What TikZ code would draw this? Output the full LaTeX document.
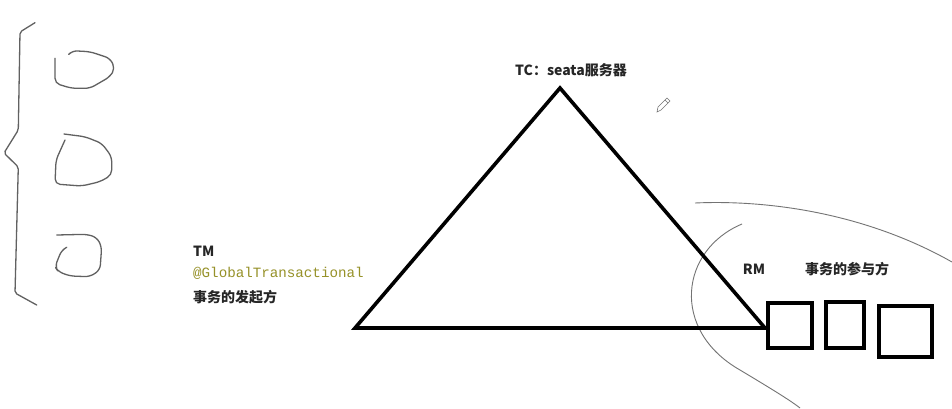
\documentclass[tikz,border=0pt]{standalone}
\usepackage{fontspec}
\newfontfamily\cjk{Noto Sans CJK SC}
\newfontfamily\mono{Liberation Mono}
\begin{document}
\begin{tikzpicture}[x=1pt,y=-1pt,
  hand/.style={draw=black!62,line width=1.3pt,line cap=round,line join=round,rounded corners=5pt},
  thick/.style={draw=black,line width=3.6pt,line join=miter},
  sq/.style={draw=black,line width=3.6pt},
  lbl/.style={font=\cjk\bfseries\fontsize{14}{16}\selectfont,inner sep=0pt,text=black!85},
  code/.style={font=\mono\fontsize{14.2}{16}\selectfont,inner sep=0pt,text={rgb,255:red,150;green,145;blue,40}},
  curve/.style={draw=black!55,line width=0.9pt}]
\useasboundingbox (0,0) rectangle (952,408);
\fill[white] (0,0) rectangle (952,408);
% brace
\draw[hand,rounded corners=2pt] (35,22.7) -- (20,32) -- (18.3,130) -- (4,153) -- (18.3,167) -- (15,293) -- (36.7,305);
% hand-drawn loops
\draw[hand] (70,53) -- (72,50.7) -- (90,51.7) -- (110,58.3) -- (115,68.3) -- (110,76.7) -- (90,88.3) -- (71.7,88.3) -- (55,83.3) -- (55,58.3);
\draw[hand] (64,134) -- (85,136.7) -- (101.7,143.3) -- (111.7,156.7) -- (111.7,175) -- (100,181.7) -- (81.7,186) -- (55,184) -- (56,160) -- (65,140);
\draw[hand] (66.7,247.3) -- (61.7,250) -- (55,266.7) -- (58.3,271.7) -- (70,276) -- (90,276.7) -- (100,270) -- (101.7,246.7) -- (96.7,237.3) -- (86.7,234.3) -- (56.7,235);
% curves
\draw[curve] (695,203) .. controls (760,200) and (860,210) .. (952,262);
\draw[curve] (742,224) .. controls (680,250) and (670,330) .. (740,370) .. controls (765,385) and (790,400) .. (800,408);
% triangle
\coordinate (apex) at (560,88);
\coordinate (L) at (355,328);
\coordinate (R) at (765,328);
\draw[thick] (L) -- (apex) -- (R) -- cycle;
% squares
\node[sq,minimum width=44pt,minimum height=45pt,inner sep=0pt] (s1) at (790,325.5) {};
\node[sq,minimum width=38pt,minimum height=46pt,inner sep=0pt] (s2) at (845,324.7) {};
\node[sq,minimum width=53pt,minimum height=51pt,inner sep=0pt] (s3) at (905.5,331.3) {};
% labels
\node[lbl] (tc) at (571,70) {TC：seata服务器};
\node[lbl,anchor=west] (tm) at (193,251) {TM};
\node[code,anchor=west] (ann) at (193,273) {@GlobalTransactional};
\node[lbl,anchor=west] (init) at (193,297) {事务的发起方};
\node[lbl] (rm) at (754,269) {RM};
\node[lbl] (part) at (847,269) {事务的参与方};
% pencil cursor
\draw[black!55,line width=0.6pt,fill=white] (657,112) -- (658,107) -- (667,98) -- (670,101) -- (661,110) -- cycle;
\draw[black!55,line width=0.6pt] (665,100) -- (668,103);
\end{tikzpicture}
\end{document}
